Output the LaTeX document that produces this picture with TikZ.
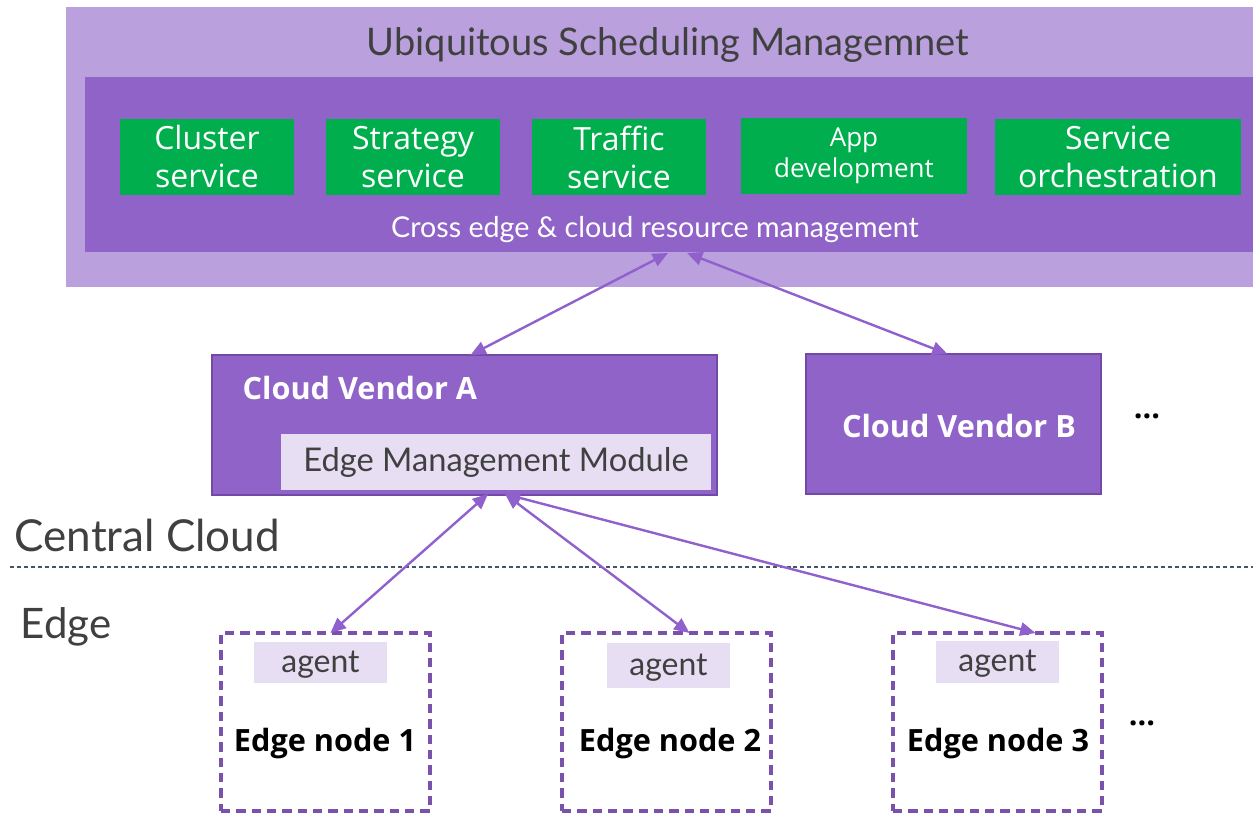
\documentclass[tikz,border=0pt]{standalone}
\usepackage{fontspec}
\setmainfont{Lato}
\newfontfamily\segoe{Open Sans}
\usetikzlibrary{arrows.meta,fit,calc}

\definecolor{lilac}{RGB}{186,161,221}
\definecolor{grape}{RGB}{143,99,200}
\definecolor{grapedk}{RGB}{112,74,166}
\definecolor{leaf}{RGB}{0,174,78}
\definecolor{mist}{RGB}{232,222,244}
\definecolor{ink}{RGB}{64,64,64}
\definecolor{slate}{RGB}{68,84,106}
\definecolor{wire}{RGB}{144,96,204}
\definecolor{dashpurple}{RGB}{123,82,171}

\tikzset{
  plain/.style={inner sep=0pt, outer sep=0pt},
  svc/.style={plain, fill=leaf},
  svctext/.style={text=white, align=center, font=\segoe\fontsize{24}{28.5}\selectfont},
  vendor/.style={plain, fill=grape, draw=grapedk, line width=1.5pt},
  mistbox/.style={plain, fill=mist},
  agenttext/.style={text=ink, font=\fontsize{24}{28}\selectfont},
  edgebox/.style={plain, draw=dashpurple, line width=2.4pt, dash pattern=on 7pt off 4.5pt},
  boldlbl/.style={font=\segoe\bfseries\fontsize{23}{27}\selectfont},
  link/.style={wire, line width=1.8pt, {Triangle[length=11.5pt,width=10pt]}-{Triangle[length=11.5pt,width=10pt]}},
}

\begin{document}
\begin{tikzpicture}[x=0.75pt,y=0.75pt,yscale=-1,xscale=1]
        \useasboundingbox (0,0) rectangle (1253,813);
        %Shape: Rectangle 
        \node (usm) [plain, fill=lilac, fit={(66,7) (1253,287)}] {};
        % Text Node
        \node (title) at (668,45) [text=ink, font=\fontsize{28.5}{34}\selectfont] {Ubiquitous Scheduling Managemnet};
        %Shape: Rectangle 
        \node (crossmgmt) [plain, fill=grape, fit={(85,77) (1253,252)}] {};
        %Shape: Rectangle 
        \node (cluster) [svc, fit={(120,119) (294,195)}] {};
        \node (clusterlbl) at (cluster) [svctext] {Cluster\\service};
        %Shape: Rectangle 
        \node (strategy) [svc, fit={(326,119) (500,195)}] {};
        \node (strategylbl) at (strategy) [svctext] {Strategy\\service};
        %Shape: Rectangle 
        \node (traffic) [svc, fit={(532,119) (706,195)}] {};
        \node (trafficlbl) at (traffic) [svctext] {Traffic\\service};
        %Shape: Rectangle 
        \node (appdev) [svc, fit={(741,118) (967,194)}] {};
        \node (appdevlbl) at (appdev) [svctext, font=\segoe\fontsize{19.5}{23.5}\selectfont] {App\\development};
        %Shape: Rectangle 
        \node (orch) [svc, fit={(995,119) (1241,195)}] {};
        \node (orchlbl) at (orch) [svctext] {Service\\orchestration};
        % Text Node
        \node (crosslbl) at (655,230) [text=white, font=\fontsize{21.5}{25}\selectfont] {Cross edge \& cloud resource management};

        %Shape: Rectangle 
        \node (vendA) [vendor, fit={(212,355) (717,495)}] {};
        % Text Node
        \node (vendAlbl) at (238,388) [anchor=west, text=white, boldlbl] {Cloud Vendor A};
        %Shape: Rectangle 
        \node (emm) [mistbox, fit={(281,434) (711,490)}] {};
        \node (emmlbl) at (emm) [text=ink, font=\fontsize{24.5}{29}\selectfont] {Edge Management Module};
        %Shape: Rectangle 
        \node (vendB) [vendor, fit={(806,354) (1101,494)}] {};
        \node (vendBlbl) at (959,426) [text=white, boldlbl] {Cloud Vendor B};
        % Text Node
        \node (moreB) at (1147,416) [boldlbl] {...};

        % Text Node
        \node (cloudlbl) at (10,535) [anchor=west, text=ink, font=\fontsize{33}{39}\selectfont] {Central Cloud};
        %Straight Lines 
        \draw [slate, line width=1.1pt, dash pattern=on 3pt off 2.2pt] (10,567) -- (1253,567);
        % Text Node
        \node (edgelbl) at (16,627) [anchor=west, text=ink, font=\fontsize{31.5}{37}\selectfont] {Edge};

        %Shape: Rectangle 
        \node (edge1) [edgebox, fit={(221,633) (430,811)}] {};
        \node (agent1) [mistbox, fit={(254,642) (387,683)}] {};
        \node (agent1lbl) at ($(agent1)+(0,2)$) [agenttext] {agent};
        \node (edge1lbl) at (325,744) [boldlbl] {Edge node 1};
        %Shape: Rectangle 
        \node (edge2) [edgebox, fit={(562,633) (771,811)}] {};
        \node (agent2) [mistbox, fit={(607,643) (730,688)}] {};
        \node (agent2lbl) at ($(agent2)+(0,2)$) [agenttext] {agent};
        \node (edge2lbl) at (670,744) [boldlbl] {Edge node 2};
        %Shape: Rectangle 
        \node (edge3) [edgebox, fit={(893,633) (1102,811)}] {};
        \node (agent3) [mistbox, fit={(936,641) (1059,683)}] {};
        \node (agent3lbl) at ($(agent3)+(0,2)$) [agenttext] {agent};
        \node (edge3lbl) at (998,744) [boldlbl] {Edge node 3};
        % Text Node
        \node (moreE) at (1142,723) [boldlbl] {...};

        %Straight Lines 
        \draw [link] ($(crossmgmt.south)+(-1,1)$) -- ($(vendA.north)+(6,0)$);
        \draw [link] ($(crossmgmt.south)+(18,1)$) -- ($(vendB.north)+(-6,0)$);
        \draw [link] ($(emm.south)+(-8,4)$) -- ($(edge1.north)+(5,0)$);
        \draw [link] ($(emm.south)+(9,4)$) -- ($(edge2.north)+(23,0)$);
        \draw [link] ($(emm.south)+(9,4)$) -- ($(edge3.north)+(38,0)$);
\end{tikzpicture}
\end{document}
